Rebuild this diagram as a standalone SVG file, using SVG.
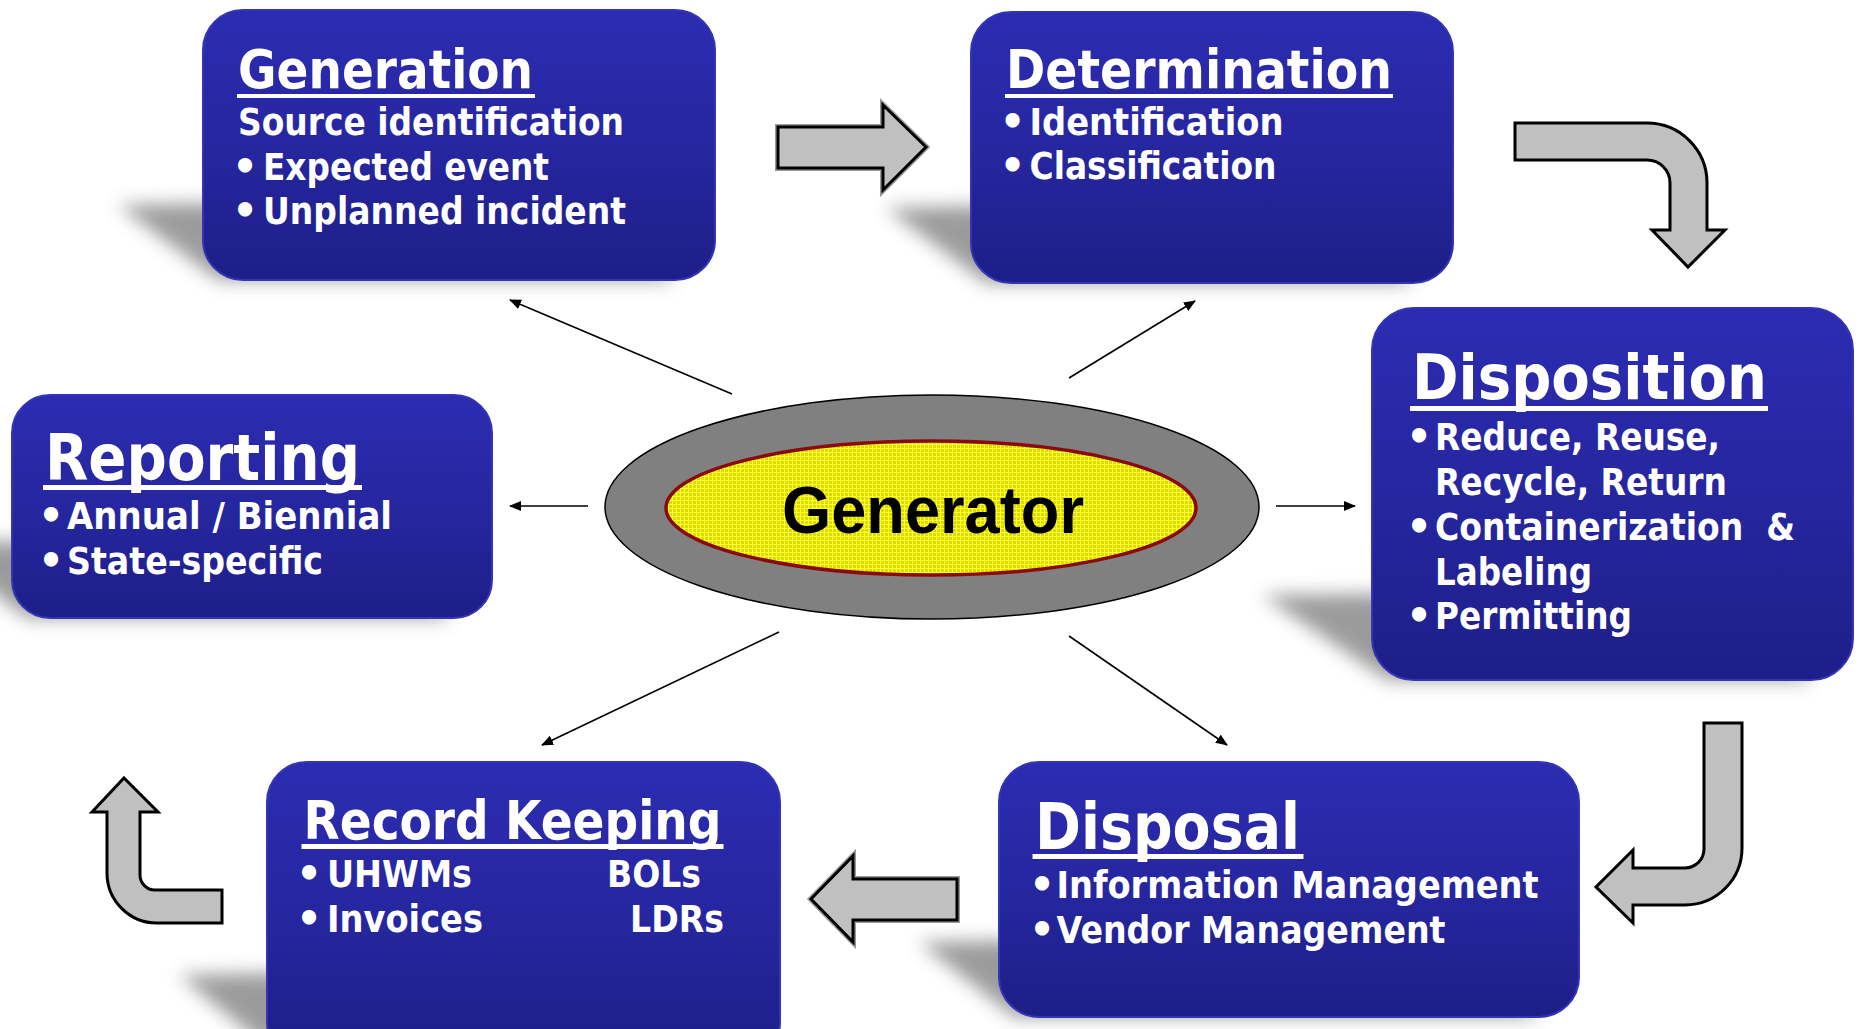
<svg xmlns="http://www.w3.org/2000/svg" width="1860" height="1029" viewBox="0 0 1860 1029">
<defs>
<style>
.box{fill:url(#boxg);stroke:#3434b8;stroke-width:2}
.shadow{fill:#7a7a7a;opacity:0.75;filter:url(#blur)}
.t{font-family:"DejaVu Sans","Verdana",sans-serif;font-weight:bold;fill:#ffffff}
.h{font-size:53px}
.hb{font-size:64px}
.s{font-size:37px}
.bul{font-family:"DejaVu Sans",sans-serif;font-weight:bold;font-size:40px;fill:#ffffff;text-anchor:middle}
.ul{fill:#ffffff}
.barrow{fill:#c0c0c0;stroke:#000;stroke-width:3;stroke-linejoin:miter}
.barrow2{fill:none;stroke:#9a9a9a;stroke-width:6;stroke-linejoin:miter}
.conn{stroke:#000;stroke-width:1.6;fill:none;marker-end:url(#ah)}
</style>
<linearGradient id="boxg" x1="0" y1="0" x2="0" y2="1">
<stop offset="0" stop-color="#2c2cb2"/>
<stop offset="0.5" stop-color="#2626a0"/>
<stop offset="1" stop-color="#1e1e88"/>
</linearGradient>
<filter id="blur" x="-30%" y="-50%" width="160%" height="200%"><feGaussianBlur stdDeviation="9"/></filter>
<pattern id="grid" width="4" height="4" patternUnits="userSpaceOnUse">
<rect width="4" height="4" fill="#dcdc00"/>
<path d="M0 0.5H4M0.5 0V4" stroke="#ffff30" stroke-width="1"/>
</pattern>
<marker id="ah" markerWidth="12" markerHeight="10" refX="11" refY="5" orient="auto" markerUnits="userSpaceOnUse">
<path d="M0,0 L12,5 L0,10 Z" fill="#000"/>
</marker>
</defs>
<rect width="1860" height="1029" fill="#ffffff"/>

<g id="shadows">
<path class="shadow" d="M218,280 L675,280 L585,195 L118,205 Z"/>
<path class="shadow" d="M986,283 L1413,283 L1323,198 L886,208 Z"/>
<path class="shadow" d="M1387,680 L1813,680 L1723,590 L1262,595 Z"/>
<path class="shadow" d="M27,618 L452,618 L362,533 L-73,543 Z"/>
<path class="shadow" d="M282,1060 L740,1060 L650,965 L179,975 Z"/>
<path class="shadow" d="M1014,1017 L1539,1017 L1449,932 L919,942 Z"/>
</g>

<g id="connectors">
<line class="conn" x1="732" y1="394" x2="510" y2="300"/>
<line class="conn" x1="1069" y1="378" x2="1195" y2="301"/>
<line class="conn" x1="588" y1="506" x2="510" y2="506"/>
<line class="conn" x1="1276" y1="506" x2="1355" y2="506"/>
<line class="conn" x1="779" y1="632" x2="542" y2="745"/>
<line class="conn" x1="1069" y1="636" x2="1227" y2="745"/>
<path class="barrow2" d="M778,127 H883 V105 L926,147 L883,190 V168 H778 Z"/>
<path class="barrow" d="M778,127 H883 V105 L926,147 L883,190 V168 H778 Z"/>
<path class="barrow" d="M1515,123 H1647 A60,60 0 0 1 1707,183 V230 H1725 L1688,267 L1652,230 H1670 V183 A23,23 0 0 0 1647,160 H1515 Z"/>
<path class="barrow" d="M1704,723 H1742 V848 A57,57 0 0 1 1685,905 H1633 V923 L1596,887 L1633,850 V868 H1685 A19,19 0 0 0 1704,849 Z"/>
<path class="barrow2" d="M811,899 L853,856 V879 H957 V920 H853 V942 Z"/>
<path class="barrow" d="M811,899 L853,856 V879 H957 V920 H853 V942 Z"/>
<path class="barrow" d="M124,778 L158,812 H140 V875 A15,15 0 0 0 155,890 H222 V923 H157 A50,50 0 0 1 107,873 V812 H92 Z"/>
</g>

<g id="generator">
<ellipse cx="932" cy="507" rx="327" ry="112" fill="#808080" stroke="#000" stroke-width="1.5"/>
<ellipse cx="931" cy="508" rx="265" ry="67" fill="url(#grid)" stroke="#8a0a0a" stroke-width="3.5"/>
<text x="782" y="533" font-family="'Liberation Sans',Arial,sans-serif" font-weight="bold" font-size="66" textLength="302" lengthAdjust="spacingAndGlyphs" fill="#000">Generator</text>
</g>

<g id="generation">
<rect class="box" x="203" y="10" width="512" height="270" rx="40"/>
<text class="t h" x="238" y="88" textLength="295" lengthAdjust="spacingAndGlyphs">Generation</text>
<rect class="ul" x="237" y="94" width="298" height="4"/>
<text class="t s" x="238" y="135" textLength="386" lengthAdjust="spacingAndGlyphs">Source identification</text>
<text class="bul" x="245" y="180">•</text>
<text class="t s" x="263" y="180" textLength="286" lengthAdjust="spacingAndGlyphs">Expected event</text>
<text class="bul" x="245" y="224">•</text>
<text class="t s" x="263" y="224" textLength="363" lengthAdjust="spacingAndGlyphs">Unplanned incident</text>
</g>

<g id="determination">
<rect class="box" x="971" y="12" width="482" height="271" rx="40"/>
<text class="t h" x="1006" y="88" textLength="386" lengthAdjust="spacingAndGlyphs">Determination</text>
<rect class="ul" x="1005" y="94" width="388" height="4"/>
<text class="bul" x="1012.5" y="135">•</text>
<text class="t s" x="1029.5" y="135" textLength="254" lengthAdjust="spacingAndGlyphs">Identification</text>
<text class="bul" x="1012.5" y="179">•</text>
<text class="t s" x="1029.5" y="179" textLength="247" lengthAdjust="spacingAndGlyphs">Classification</text>
</g>

<g id="disposition">
<rect class="box" x="1372" y="308" width="481" height="372" rx="42"/>
<text class="t" font-size="63" x="1412" y="399" textLength="355" lengthAdjust="spacingAndGlyphs">Disposition</text>
<rect class="ul" x="1410" y="406" width="358" height="5"/>
<text class="bul" x="1419" y="450">•</text>
<text class="t s" x="1435" y="450" textLength="285" lengthAdjust="spacingAndGlyphs">Reduce, Reuse,</text>
<text class="t s" x="1435" y="495" textLength="292" lengthAdjust="spacingAndGlyphs">Recycle, Return</text>
<text class="bul" x="1419" y="540">•</text>
<text class="t s" x="1435" y="540" textLength="360" lengthAdjust="spacingAndGlyphs" xml:space="preserve">Containerization  &amp;</text>
<text class="t s" x="1435" y="585" textLength="157" lengthAdjust="spacingAndGlyphs">Labeling</text>
<text class="bul" x="1419" y="629">•</text>
<text class="t s" x="1435" y="629" textLength="197" lengthAdjust="spacingAndGlyphs">Permitting</text>
</g>

<g id="reporting">
<rect class="box" x="12" y="395" width="480" height="223" rx="38"/>
<text class="t hb" x="45" y="480" textLength="315" lengthAdjust="spacingAndGlyphs">Reporting</text>
<rect class="ul" x="43" y="485" width="319" height="5"/>
<text class="bul" x="51" y="529">•</text>
<text class="t s" x="67" y="529" textLength="325" lengthAdjust="spacingAndGlyphs">Annual / Biennial</text>
<text class="bul" x="51" y="574">•</text>
<text class="t s" x="67" y="574" textLength="256" lengthAdjust="spacingAndGlyphs">State-specific</text>
</g>

<g id="recordkeeping">
<rect class="box" x="267" y="762" width="513" height="300" rx="40"/>
<text class="t h" x="303.5" y="839" textLength="418" lengthAdjust="spacingAndGlyphs">Record Keeping</text>
<rect class="ul" x="301.5" y="844" width="422" height="5"/>
<text class="bul" x="309" y="887">•</text>
<text class="t s" x="327" y="887" textLength="145" lengthAdjust="spacingAndGlyphs">UHWMs</text>
<text class="t s" x="607" y="887" textLength="94" lengthAdjust="spacingAndGlyphs">BOLs</text>
<text class="bul" x="309" y="932">•</text>
<text class="t s" x="327" y="932" textLength="156" lengthAdjust="spacingAndGlyphs">Invoices</text>
<text class="t s" x="630" y="932" textLength="94" lengthAdjust="spacingAndGlyphs">LDRs</text>
</g>

<g id="disposal">
<rect class="box" x="999" y="762" width="580" height="255" rx="40"/>
<text class="t hb" x="1035" y="849" textLength="265" lengthAdjust="spacingAndGlyphs">Disposal</text>
<rect class="ul" x="1032.5" y="854" width="271" height="5"/>
<text class="bul" x="1042" y="898">•</text>
<text class="t s" x="1056.5" y="898" textLength="482" lengthAdjust="spacingAndGlyphs">Information Management</text>
<text class="bul" x="1042" y="943">•</text>
<text class="t s" x="1056.5" y="943" textLength="389" lengthAdjust="spacingAndGlyphs">Vendor Management</text>
</g>
</svg>
